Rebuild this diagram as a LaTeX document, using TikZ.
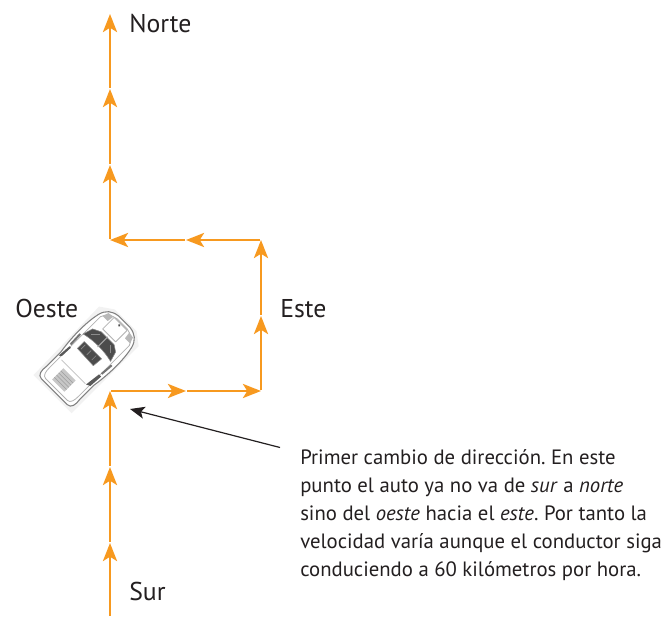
\documentclass[tikz,border=0pt]{standalone}
\usepackage{fontspec}
\setmainfont{PT Sans}
\usetikzlibrary{arrows.meta}
\definecolor{route}{HTML}{F7991F}
\definecolor{ink}{HTML}{231F20}
\tikzset{
  x=0.75pt,y=-0.75pt,
  leg/.style={route,line width=2.2pt,-{Stealth[length=13.5pt,width=10.5pt,inset=3.2pt]},shorten >=0pt,shorten <=0.7pt},
  lbl/.style={text=ink,font=\fontsize{19.3pt}{22pt}\selectfont,inner sep=0pt,anchor=base west},
  note/.style={text=ink,font=\fontsize{15.55pt}{21pt}\selectfont,inner sep=0pt,anchor=base west,align=left},
  pointer/.style={ink,line width=0.9pt,-{Stealth[length=11pt,width=9pt,inset=2.5pt]}},
  body/.style={draw=black!50,line width=0.8pt,fill=white,line join=round},
  trim/.style={draw=black!30,line width=0.6pt,line join=round},
  glass/.style={fill=black!70,draw=black!45,line width=0.4pt,line join=round},
  pale/.style={fill=black!22}
}
\frenchspacing
\begin{document}
\begin{tikzpicture}
\useasboundingbox (0,0) rectangle (665,617);
% route waypoints
\coordinate (p0) at (110,617);
\coordinate (p1) at (110,543);
\coordinate (p2) at (110,467);
\coordinate (p3) at (110,391);
\coordinate (p4) at (186,391);
\coordinate (p5) at (261,391);
\coordinate (p6) at (261,316);
\coordinate (p7) at (261,240);
\coordinate (p8) at (186,240);
\coordinate (p9) at (110,240);
\coordinate (p10) at (110,165);
\coordinate (p11) at (110,89);
\coordinate (p12) at (110,14);
\foreach \a/\b in {p0/p1,p1/p2,p2/p3,p3/p4,p4/p5,p5/p6,p6/p7,p7/p8,p8/p9,p9/p10,p10/p11,p11/p12}
  \draw[leg] (\a) -- (\b);
% compass labels
\node[lbl] (norte) at (129,33) {Norte};
\node[lbl] (este) at (280,317) {Este};
\node[lbl] (oeste) at (15,317) {Oeste};
\node[lbl] (sur) at (129,600) {Sur};
% the car, seen from above, nose pointing north-east
\begin{scope}[shift={(87.5,358.5)},rotate=45,scale=1.02]
  % soft halo round the bodywork
  \fill[black!5] (-49,-26) -- (44,-28) -- (53,-15) -- (53,15) -- (44,27) -- (-49,27) -- cycle;
  % bodywork
  \draw[body] (-46,-18) .. controls (-46,-23) and (-40,-24) .. (-34,-23)
    -- (-14,-23) .. controls (5,-26) and (25,-26) .. (38,-23)
    .. controls (46,-21) and (50,-16) .. (51,-8)
    -- (51,8) .. controls (50,16) and (46,21) .. (38,23)
    .. controls (25,26) and (5,26) .. (-14,23)
    -- (-34,23) .. controls (-40,24) and (-46,23) .. (-46,18) -- cycle;
  \draw[trim] (-43,-15) .. controls (-43,-19) and (-38,-20) .. (-33,-20)
    -- (38,-20) .. controls (44,-18) and (47,-13) .. (48,-7)
    -- (48,7) .. controls (47,13) and (44,18) .. (38,20)
    -- (-33,20) .. controls (-38,20) and (-43,19) .. (-43,15) -- cycle;
  % boot lid with its grey panel
  \fill[pale] (-39,-10) rectangle (-23.5,7);
  \foreach \v in {-36,-33,-30,-27} \draw[black!38,line width=0.4pt] (\v,-10) -- (\v,7);
  \draw[black!25,line width=0.5pt] (-19,-17) -- (-19,16);
  % rear window
  \fill[glass] (0,-14) -- (9.5,-14) -- (9.5,10) -- (-1,9) -- cycle;
  \draw[black!45,line width=0.5pt] (2,-11) -- (8,-11) (2,-3) -- (8,-3) (2,4) -- (8,4);
  % windscreen, split by the pillar line
  \fill[glass] (14,-20) -- (24,-17) -- (28,-9) -- (28,9) -- (24,15) -- (14,18) .. controls (17,6) and (17,-8) .. (14,-20);
  \draw[black!35,line width=0.8pt] (15,-1) -- (29,-1);
  \draw[black!45,line width=0.4pt] (19,-14) -- (25,-8) (19,12) -- (25,6);
  % side windows
  \fill[black!65] (-18,-22) -- (-4,-21) -- (-4,-19) -- (-16,-19.5) -- cycle;
  \fill[black!55] (-2,-22.5) -- (12,-23) -- (12,-21) -- (-2,-20.5) -- cycle;
  \fill[black!65] (-19,17) -- (-3,19) -- (-3,22) -- (-17,21) -- cycle;
  \fill[black!55] (-1,21.5) -- (12,22.5) -- (12,20.5) -- (-1,19.5) -- cycle;
  % bonnet plate, filler cap and lamps
  \draw[trim] (31,-10) -- (47,-10) -- (47,8) -- (31,8) -- cycle;
  \fill[black!70] (45,-1) circle (1.3);
  \fill[black!28] (40,-19) -- (46,-17) -- (47,-11) -- (40,-12) -- cycle;
  \fill[black!28] (40,19) -- (46,17) -- (47,11) -- (40,12) -- cycle;
\end{scope}
% annotation
\node[note] (nota1) at (300,464) {Primer cambio de dirección. En este};
\node[note] (nota2) at (300,492) {punto el auto ya no va de \textit{sur} a \textit{norte}};
\node[note] (nota3) at (300,520) {sino del \textit{oeste} hacia el \textit{este}. Por tanto la};
\node[note] (nota4) at (300,548) {velocidad varía aunque el conductor siga};
\node[note] (nota5) at (300,576) {conduciendo a 60 kilómetros por hora.};
\coordinate (notetail) at (280,447.5);
\coordinate (turn) at (130,409);
\draw[pointer] (notetail) -- (turn);
\end{tikzpicture}
\end{document}
